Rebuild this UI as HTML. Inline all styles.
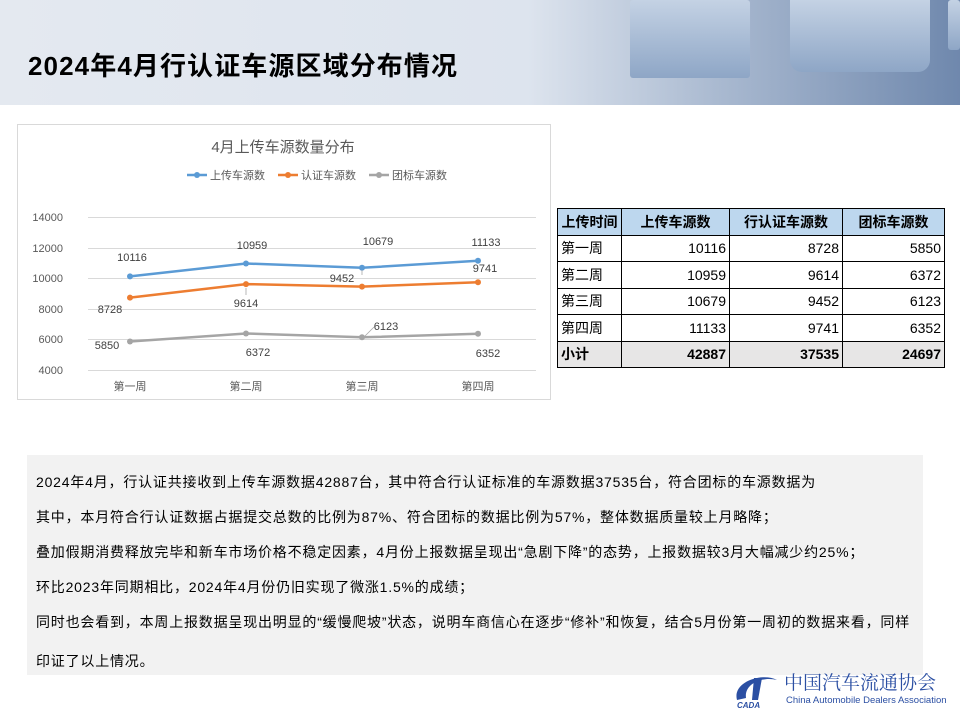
<!DOCTYPE html>
<html><head><meta charset="utf-8"><style>
body{margin:0;width:960px;height:720px;position:relative;background:#fff;font-family:"Liberation Sans","Noto Sans CJK SC",sans-serif;overflow:hidden}
.hdr{position:absolute;left:0;top:0;width:960px;height:105px;background:linear-gradient(90deg,#e4e9f0 0%,#dde4ee 55%,#a9b9d0 75%,#6f88ad 100%)}
.cube{position:absolute;background:linear-gradient(180deg,#c4d2e4,#8ea6c6);border-radius:3px}
h1{position:absolute;left:28px;top:46px;margin:0;font-size:26px;font-weight:bold;color:#000;letter-spacing:1.1px;white-space:nowrap}
table{position:absolute;left:557px;top:208px;border-collapse:collapse;font-size:14px}
td{border:1px solid #000;height:25.5px;padding:0 3px;text-align:right}
td:first-child{text-align:left}
tr.h td{background:#bdd7ee;font-weight:bold;text-align:center}
tr.t td{background:#e7e6e6;font-weight:bold}
.txt{position:absolute;left:27px;top:455px;width:896px;height:220px;background:#f2f2f2;font-size:14px;color:#000}
.txt div{position:absolute;left:9px;white-space:nowrap;letter-spacing:0.8px}
</style></head><body>
<div class="hdr"></div>
<div class="cube" style="left:630px;top:0;width:120px;height:78px"></div>
<div class="cube" style="left:790px;top:0;width:140px;height:72px;border-radius:0 0 12px 12px"></div>
<div class="cube" style="left:948px;top:0;width:12px;height:50px"></div>
<h1>2024年4月行认证车源区域分布情况</h1>
<svg style="position:absolute;left:0;top:0" width="960" height="720">
<rect x="17.5" y="124.5" width="533" height="275" fill="#fff" stroke="#d9d9d9"/>
<text x="283" y="152" font-size="15" text-anchor="middle" fill="#595959">4月上传车源数量分布</text>
<g font-size="11" fill="#595959">
<line x1="187" y1="175" x2="207" y2="175" stroke="#5b9bd5" stroke-width="2.5"/><circle cx="197" cy="175" r="3" fill="#5b9bd5"/><text x="210" y="179">上传车源数</text>
<line x1="278" y1="175" x2="298" y2="175" stroke="#ed7d31" stroke-width="2.5"/><circle cx="288" cy="175" r="3" fill="#ed7d31"/><text x="301" y="179">认证车源数</text>
<line x1="369" y1="175" x2="389" y2="175" stroke="#a5a5a5" stroke-width="2.5"/><circle cx="379" cy="175" r="3" fill="#a5a5a5"/><text x="392" y="179">团标车源数</text>
</g>
<g stroke="#d9d9d9" stroke-width="1">
<line x1="88" y1="217.5" x2="536" y2="217.5"/><line x1="88" y1="248.5" x2="536" y2="248.5"/><line x1="88" y1="278.5" x2="536" y2="278.5"/><line x1="88" y1="309.5" x2="536" y2="309.5"/><line x1="88" y1="339.5" x2="536" y2="339.5"/><line x1="88" y1="370.5" x2="536" y2="370.5"/>
</g>
<g font-size="11" fill="#595959" text-anchor="end">
<text x="63" y="221">14000</text><text x="63" y="252">12000</text><text x="63" y="282">10000</text><text x="63" y="313">8000</text><text x="63" y="343">6000</text><text x="63" y="374">4000</text>
</g>
<g font-size="11" fill="#595959" text-anchor="middle">
<text x="130" y="390">第一周</text><text x="246" y="390">第二周</text><text x="362" y="390">第三周</text><text x="478" y="390">第四周</text>
</g>
<polyline points="130,276.4 246,263.5 362,267.8 478,260.8" fill="none" stroke="#5b9bd5" stroke-width="2.5"/>
<polyline points="130,297.6 246,284.1 362,286.6 478,282.2" fill="none" stroke="#ed7d31" stroke-width="2.5"/>
<polyline points="130,341.5 246,333.5 362,337.3 478,333.8" fill="none" stroke="#a5a5a5" stroke-width="2.5"/>
<g fill="#5b9bd5"><circle cx="130" cy="276.4" r="3"/><circle cx="246" cy="263.5" r="3"/><circle cx="362" cy="267.8" r="3"/><circle cx="478" cy="260.8" r="3"/></g>
<g fill="#ed7d31"><circle cx="130" cy="297.6" r="3"/><circle cx="246" cy="284.1" r="3"/><circle cx="362" cy="286.6" r="3"/><circle cx="478" cy="282.2" r="3"/></g>
<g fill="#a5a5a5"><circle cx="130" cy="341.5" r="3"/><circle cx="246" cy="333.5" r="3"/><circle cx="362" cy="337.3" r="3"/><circle cx="478" cy="333.8" r="3"/></g>
<g font-size="11" fill="#404040" text-anchor="middle">
<text x="132" y="261">10116</text><text x="252" y="249">10959</text><text x="378" y="245">10679</text><text x="486" y="246">11133</text>
<text x="110" y="313">8728</text><text x="246" y="307">9614</text><text x="342" y="282">9452</text><text x="485" y="272">9741</text>
<text x="107" y="349">5850</text><text x="258" y="356">6372</text><text x="386" y="330">6123</text><text x="488" y="357">6352</text>
</g>
<g stroke="#a6a6a6" stroke-width="0.8"><line x1="246" y1="288" x2="246" y2="295"/><line x1="362" y1="270" x2="362" y2="275"/><line x1="365" y1="336" x2="374" y2="327"/></g>
</svg>
<table>
<tr class="h"><td style="width:57px">上传时间</td><td style="width:101px">上传车源数</td><td style="width:106px">行认证车源数</td><td style="width:95px">团标车源数</td></tr>
<tr><td>第一周</td><td>10116</td><td>8728</td><td>5850</td></tr>
<tr><td>第二周</td><td>10959</td><td>9614</td><td>6372</td></tr>
<tr><td>第三周</td><td>10679</td><td>9452</td><td>6123</td></tr>
<tr><td>第四周</td><td>11133</td><td>9741</td><td>6352</td></tr>
<tr class="t"><td>小计</td><td>42887</td><td>37535</td><td>24697</td></tr>
</table>
<div class="txt">
<div style="top:17px">2024年4月，行认证共接收到上传车源数据42887台，其中符合行认证标准的车源数据37535台，符合团标的车源数据为</div>
<div style="top:52px">其中，本月符合行认证数据占据提交总数的比例为87%、符合团标的数据比例为57%，整体数据质量较上月略降；</div>
<div style="top:87px">叠加假期消费释放完毕和新车市场价格不稳定因素，4月份上报数据呈现出“急剧下降”的态势，上报数据较3月大幅减少约25%；</div>
<div style="top:122px">环比2023年同期相比，2024年4月份仍旧实现了微涨1.5%的成绩；</div>
<div style="top:157px">同时也会看到，本周上报数据呈现出明显的“缓慢爬坡”状态，说明车商信心在逐步“修补”和恢复，结合5月份第一周初的数据来看，同样</div>
<div style="top:196px">印证了以上情况。</div>
</div>
<svg style="position:absolute;left:732px;top:672px" width="50" height="38"><path d="M5,28 C0,10 30,0 45,8 C30,4 12,12 14,26 Z" fill="#2b4fa3"/><path d="M22,6 L30,6 L26,28 L20,28 Z" fill="#2b4fa3"/><text x="5" y="36" font-size="8" font-weight="bold" font-style="italic" fill="#2b4fa3">CADA</text></svg>
<div style="position:absolute;left:784px;top:671px;font-size:19px;color:#2b4fa3;font-family:'Noto Serif CJK SC',serif;white-space:nowrap;line-height:22px">中国汽车流通协会</div>
<div style="position:absolute;left:786px;top:695px;font-size:9.5px;color:#2b4fa3;white-space:nowrap">China Automobile Dealers Association</div>
</body></html>
